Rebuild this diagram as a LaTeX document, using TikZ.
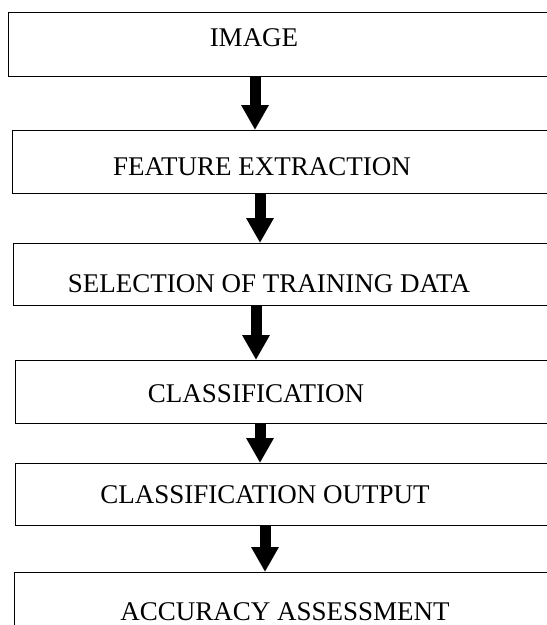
\documentclass[tikz,border=0pt]{standalone}
\usepackage{fontspec}
\setmainfont{Liberation Serif}
\usetikzlibrary{arrows.meta}

\begin{document}
\begin{tikzpicture}[x=1pt,y=-1pt,
	stagebox/.style={draw=black, line width=1.3pt, anchor=north west, minimum width=600pt, inner sep=0pt},
	stagetext/.style={font=\fontsize{27pt}{30pt}\selectfont, inner sep=0pt},
	flow/.style={line width=11pt, -{Triangle[width=26pt,length=25pt]}}]
	
	\clip (0,0) rectangle (547,625);
	
	% Etapas
	\draw (8,12) node[stagebox, minimum height=64pt] (image) {};
	\node[stagetext] at (254,38) {IMAGE};
	
	\draw (12,130) node[stagebox, minimum height=63pt] (feature) {};
	\node[stagetext] at (262,167) {FEATURE EXTRACTION};
	
	\draw (13,243) node[stagebox, minimum height=62pt] (training) {};
	\node[stagetext] at (269,284) {SELECTION OF TRAINING DATA};
	
	\draw (15,360) node[stagebox, minimum height=63pt] (classif) {};
	\node[stagetext] at (256,394) {CLASSIFICATION};
	
	\draw (15,463) node[stagebox, minimum height=62pt] (output) {};
	\node[stagetext] at (265,495) {CLASSIFICATION OUTPUT};
	
	\draw (14,572) node[stagebox, minimum height=80pt] (accuracy) {};
	\node[stagetext] at (285,612) {ACCURACY ASSESSMENT};
	
	% Flechas
	\draw[flow] (image.south -| 255,0) -- (feature.north -| 255,0);
	\draw[flow] (feature.south -| 260,0) -- (training.north -| 260,0);
	\draw[flow] (training.south -| 256,0) -- (classif.north -| 256,0);
	\draw[flow] (classif.south -| 260,0) -- (output.north -| 260,0);
	\draw[flow] (output.south -| 265,0) -- (accuracy.north -| 265,0);
	
\end{tikzpicture}
\end{document}
